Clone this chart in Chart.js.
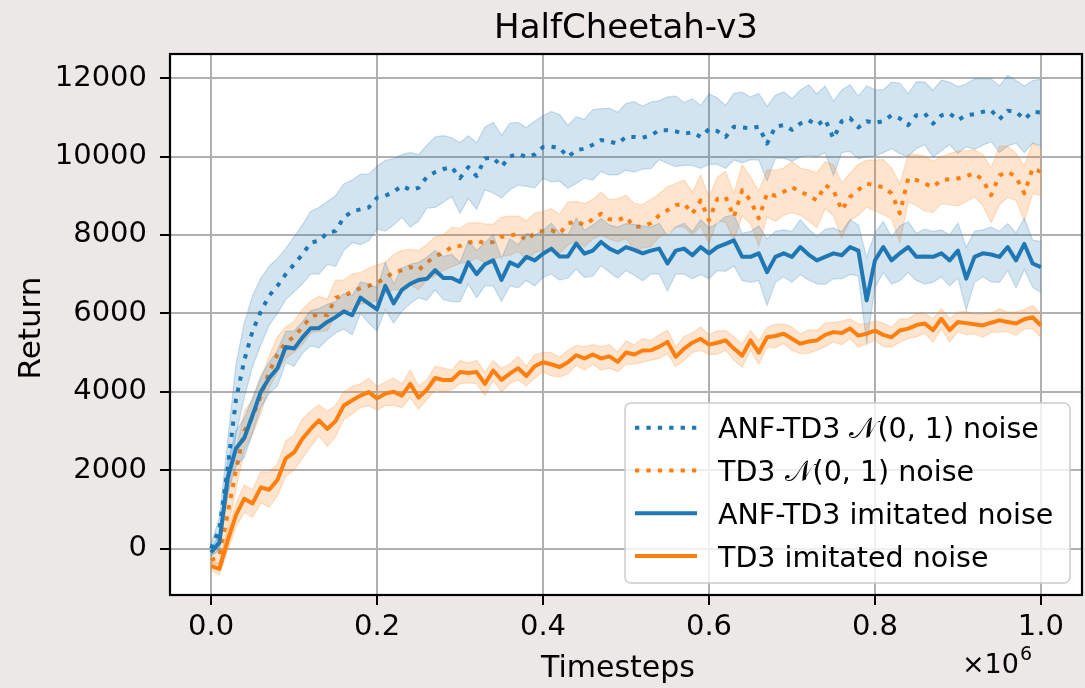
<!DOCTYPE html>
<html>
<head>
<meta charset="utf-8">
<script src="https://cdn.jsdelivr.net/npm/chart.js@4.4.1/dist/chart.umd.min.js"></script>
<style>
  body { margin: 0; background: #ede8e8; }
  canvas { display: block; }
</style>
</head>
<body>
<canvas id="myChart" width="1085" height="688"></canvas>
<script>
// evaluation every 10000 timesteps, 0 .. 1e6
var STEP = 10000;

var anfNormal = [
  0, 500, 2050, 3800, 4800, 5550, 6050, 6450, 6700, 7000,
  7250, 7500, 7800, 7850, 8050, 8100, 8450, 8600, 8650, 8700,
  8950, 9000, 9100, 9250, 9150, 9200, 9480, 9600, 9680, 9730,
  9450, 9730, 9500, 9950, 9970, 9740, 10000, 10070, 9990, 10050,
  10240, 10250, 10220, 9990, 10160, 10200, 10300, 10420, 10380, 10330,
  10500, 10500, 10480, 10540, 10670, 10670, 10640, 10580, 10620, 10500,
  10700, 10650, 10500, 10760, 10740, 10720, 10760, 10330, 10760, 10800,
  10680, 10840, 10930, 10800, 10950, 10460, 10900, 10980, 10740, 10900,
  10860, 10900, 11050, 10970, 10800, 11055, 11100, 10840, 11050, 11100,
  10930, 11050, 11080, 11140, 11180, 10950, 11170, 11140, 10950, 11140,
  11120
];
var anfNormalSpread = [
  100, 300, 700, 900, 950, 900, 850, 750, 700, 650,
  700, 750, 800, 850, 800, 900, 850, 800, 900, 850,
  800, 900, 850, 800, 950, 850, 800, 900, 850, 750,
  900, 800, 850, 800, 900, 800, 850, 800, 750, 850,
  800, 900, 850, 800, 850, 750, 900, 800, 850, 800,
  850, 900, 800, 850, 750, 850, 900, 800, 850, 800,
  900, 850, 800, 850, 900, 800, 850, 950, 800, 850,
  800, 850, 900, 800, 850, 950, 800, 850, 800, 900,
  850, 800, 850, 900, 800, 850, 800, 850, 900, 800,
  850, 800, 900, 850, 800, 850, 900, 800, 850, 800,
  850
];

var tdNormal = [
  -300, -200, 900, 2000, 3000, 3350, 3900, 4500, 4950, 5250,
  5400, 5650, 5900, 5990, 5950, 6400, 6450, 6550, 6640, 6700,
  6780, 6900, 7050, 7100, 7180, 7100, 7300, 7450, 7550, 7690,
  7720, 7800, 7860, 7780, 7820, 7950, 7980, 8030, 7860, 8050,
  8100, 8120, 8030, 8290, 8350, 8250, 8400, 8540, 8400, 8370,
  8460, 8200, 8220, 8300, 8500, 8630, 8760, 8800, 8540, 8880,
  8370, 8920, 8970, 8460, 9140, 8880, 8420, 9060, 9000, 9100,
  9220, 9100, 9010, 8880, 9270, 9140, 8630, 8970, 9150, 9310,
  9260, 9220, 9060, 8550, 9440, 9400, 9310, 9220, 9400, 9420,
  9440, 9500, 9570, 9400, 9010, 9520, 9610, 9480, 9060, 9700,
  9610
];
var tdNormalSpread = [
  100, 200, 400, 500, 500, 450, 450, 400, 450, 400,
  400, 450, 400, 450, 400, 450, 400, 450, 400, 450,
  450, 400, 450, 500, 450, 500, 450, 500, 450, 500,
  450, 500, 450, 500, 450, 500, 500, 450, 500, 500,
  500, 550, 500, 550, 500, 550, 500, 550, 500, 550,
  550, 600, 550, 600, 550, 600, 550, 600, 550, 650,
  600, 550, 650, 600, 650, 600, 700, 600, 650, 600,
  650, 600, 650, 700, 600, 650, 700, 600, 650, 600,
  650, 700, 650, 750, 600, 650, 700, 650, 600, 650,
  700, 650, 600, 650, 700, 750, 650, 600, 700, 650,
  600
];

var anfImit = [
  -100, 150, 1800, 2550, 2820, 3400, 4000, 4350, 4600, 5140,
  5100, 5380, 5620, 5620, 5780, 5900, 6050, 5950, 6400, 6250,
  6100, 6700, 6250, 6600, 6750, 6850, 6880, 7100, 6900, 6900,
  6800, 7300, 7000, 7250, 7350, 6850, 7300, 7200, 7440, 7350,
  7520, 7650, 7450, 7450, 7780, 7520, 7600, 7820, 7650, 7550,
  7690, 7620, 7530, 7600, 7650, 7270, 7600, 7650, 7480, 7690,
  7530, 7690, 7770, 7860, 7440, 7440, 7530, 7050, 7440, 7530,
  7440, 7690, 7500, 7350, 7440, 7530, 7480, 7690, 7600, 6330,
  7350, 7690, 7350, 7530, 7690, 7440, 7450, 7440, 7530, 7350,
  7600, 6885, 7440, 7530, 7500, 7440, 7690, 7350, 7770, 7270,
  7180
];
var anfImitSpread = [
  100, 200, 400, 450, 500, 450, 400, 400, 450, 400,
  450, 400, 450, 500, 450, 400, 450, 500, 400, 500,
  550, 600, 500, 550, 500, 450, 550, 500, 550, 600,
  500, 550, 600, 550, 650, 550, 600, 550, 600, 650,
  600, 650, 600, 550, 650, 600, 650, 600, 600, 650,
  600, 650, 700, 600, 650, 700, 600, 650, 600, 700,
  650, 600, 700, 650, 600, 650, 700, 850, 650, 600,
  650, 700, 650, 600, 700, 650, 600, 700, 650, 1100,
  700, 650, 600, 700, 650, 600, 700, 650, 600, 650,
  700, 800, 650, 600, 700, 650, 600, 700, 650, 600,
  650
];

var tdImit = [
  -450, -520, 200, 850, 1270, 1150, 1560, 1500, 1750, 2300,
  2450, 2800, 3050, 3270, 3050, 3250, 3650, 3780, 3900, 3990,
  3830, 3950, 4000, 3900, 4200, 3850, 4050, 4350, 4300, 4300,
  4500, 4480, 4500, 4200, 4540, 4300, 4460, 4600, 4400, 4650,
  4750, 4700, 4630, 4750, 4930, 4850, 4950, 4850, 4900, 4760,
  5000, 4950, 5050, 5055, 5150, 5270, 4890, 5100, 5250, 5350,
  5200, 5250, 5310, 5100, 4920, 5310, 5000, 5390, 5420, 5480,
  5350, 5225, 5280, 5310, 5450, 5520, 5500, 5610, 5430, 5480,
  5560, 5450, 5390, 5560, 5610, 5700, 5740, 5570, 5860, 5570,
  5780, 5750, 5720, 5690, 5760, 5820, 5780, 5740, 5850, 5900,
  5690
];
var tdImitSpread = [
  100, 150, 250, 300, 350, 350, 400, 450, 400, 450,
  450, 500, 450, 400, 450, 400, 350, 350, 300, 350,
  300, 300, 350, 300, 350, 300, 250, 300, 300, 250,
  300, 250, 300, 300, 250, 300, 250, 300, 250, 300,
  250, 300, 250, 300, 250, 300, 250, 300, 300, 250,
  300, 250, 300, 250, 300, 300, 250, 300, 250, 300,
  250, 300, 250, 300, 300, 250, 300, 250, 300, 250,
  300, 250, 300, 250, 300, 250, 300, 250, 300, 250,
  250, 300, 250, 300, 250, 300, 250, 300, 250, 300,
  250, 300, 250, 300, 250, 300, 250, 300, 250, 300,
  300
];

var xTicks = [0, 200000, 400000, 600000, 800000, 1000000];
var yTicks = [0, 2000, 4000, 6000, 8000, 10000, 12000];

var FONT = "'DejaVu Sans', 'Noto Sans', sans-serif";
var BLUE = [31, 119, 180];
var ORANGE = [255, 127, 14];
var DOTS = [4.3, 7.1];

function rgba(c, a) { return 'rgba(' + c[0] + ',' + c[1] + ',' + c[2] + ',' + a + ')'; }

var series = [
  { parts: ['ANF-TD3 ', '𝒩', '(0, 1) noise'], mean: anfNormal, spread: anfNormalSpread, color: BLUE, dash: DOTS },
  { parts: ['TD3 ', '𝒩', '(0, 1) noise'], mean: tdNormal, spread: tdNormalSpread, color: ORANGE, dash: DOTS },
  { parts: ['ANF-TD3 imitated noise'], mean: anfImit, spread: anfImitSpread, color: BLUE, dash: [] },
  { parts: ['TD3 imitated noise'], mean: tdImit, spread: tdImitSpread, color: ORANGE, dash: [] }
];

var timesteps = [];
for (var i = 0; i < anfNormal.length; i++) timesteps.push(i * STEP);

function pts(arr, sp, sign) {
  return arr.map(function(v, i) { return { x: timesteps[i], y: v + sign * (sp ? sp[i] : 0) }; });
}

var datasets = [];
series.forEach(function(s, k) {
  var z = (3 - k) * 10;
  datasets.push({
    data: pts(s.mean, s.spread, 1), fill: '+1',
    backgroundColor: rgba(s.color, 0.2), borderColor: rgba(s.color, 0.22),
    borderWidth: 1.2, pointRadius: 0, tension: 0, order: z + 2
  });
  datasets.push({
    data: pts(s.mean, s.spread, -1), fill: false,
    borderColor: rgba(s.color, 0.22), borderWidth: 1.2, pointRadius: 0, tension: 0, order: z + 1
  });
  datasets.push({
    data: pts(s.mean, null, 0), fill: false,
    borderColor: rgba(s.color, 1), borderWidth: 4, borderDash: s.dash,
    borderJoinStyle: 'round', pointRadius: 0, tension: 0, order: z
  });
});

var decor = {
  id: 'decor',
  beforeDraw: function(chart) {
    var ctx = chart.ctx, a = chart.chartArea;
    ctx.save();
    ctx.fillStyle = '#ede8e8';
    ctx.fillRect(0, 0, chart.width, chart.height);
    ctx.fillStyle = '#ffffff';
    ctx.fillRect(a.left, a.top, a.right - a.left, a.bottom - a.top);
    ctx.restore();
  },
  afterDatasetsDraw: function(chart) {
    var ctx = chart.ctx, a = chart.chartArea;
    ctx.save();
    ctx.strokeStyle = '#000';
    ctx.lineWidth = 2.2;
    ctx.strokeRect(a.left, a.top, a.right - a.left, a.bottom - a.top);
    ctx.restore();
  },
  afterDraw: function(chart) {
    var ctx = chart.ctx, a = chart.chartArea;
    ctx.save();
    ctx.fillStyle = '#000';
    ctx.textBaseline = 'alphabetic';

    // title
    ctx.font = '34px ' + FONT;
    ctx.textAlign = 'center';
    ctx.fillText('HalfCheetah-v3', (a.left + a.right) / 2, 38);

    // axis titles
    ctx.font = '30px ' + FONT;
    ctx.fillText('Timesteps', 618, 677);
    ctx.save();
    ctx.translate(40, 328);
    ctx.rotate(-Math.PI / 2);
    ctx.font = '31px ' + FONT;
    ctx.fillText('Return', 0, 0);
    ctx.restore();

    // offset text
    ctx.textAlign = 'left';
    ctx.font = '19px ' + FONT;
    var w6 = ctx.measureText('6').width;
    ctx.font = '27px ' + FONT;
    var wx = ctx.measureText('×10').width;
    var x0 = 1031 - w6 - wx;
    ctx.fillText('×10', x0, 673);
    ctx.font = '19px ' + FONT;
    ctx.fillText('6', x0 + wx + 1, 660);

    // legend
    var bx = 625, by = 403, bw = 445, bh = 180;
    ctx.beginPath();
    ctx.roundRect(bx, by, bw, bh, 6);
    ctx.fillStyle = 'rgba(255,255,255,0.8)';
    ctx.fill();
    ctx.strokeStyle = '#cccccc';
    ctx.lineWidth = 1.5;
    ctx.stroke();

    series.forEach(function(s, k) {
      var ly = 427.7 + k * 42.8;
      ctx.beginPath();
      ctx.setLineDash(s.dash);
      ctx.lineCap = 'butt';
      ctx.strokeStyle = rgba(s.color, 1);
      ctx.lineWidth = 4;
      ctx.moveTo(635, ly);
      ctx.lineTo(697, ly);
      ctx.stroke();
      ctx.setLineDash([]);

      var tx = 718;
      ctx.fillStyle = '#000';
      s.parts.forEach(function(p) {
        ctx.font = (p === '𝒩' ? '29px ' : '28.5px ') + FONT;
        ctx.fillText(p, tx, ly + 10.5);
        tx += ctx.measureText(p).width;
      });
    });
    ctx.restore();
  }
};

var ctx = document.getElementById('myChart');

var chart = new Chart(ctx, {
  type: 'line',
  data: { datasets: datasets },
  plugins: [decor],
  options: {
    responsive: false,
    animation: false,
    events: [],
    layout: { padding: { left: 0, right: 3, top: 54, bottom: 0 } },
    plugins: {
      legend: { display: false },
      tooltip: { enabled: false },
      title: { display: false }
    },
    scales: {
      x: {
        type: 'linear',
        min: -49500,
        max: 1049500,
        afterBuildTicks: function(s) { s.ticks = xTicks.map(function(v) { return { value: v }; }); },
        afterFit: function(s) { s.height = 93; },
        border: { display: false },
        grid: { color: '#b0b0b0', lineWidth: 2, tickLength: 10, tickColor: '#000', tickWidth: 2 },
        ticks: {
          color: '#000', padding: 5, maxRotation: 0, autoSkip: false,
          font: { size: 29, family: FONT },
          callback: function(v) { return (v / 1e6).toFixed(1); }
        }
      },
      y: {
        type: 'linear',
        min: -1186,
        max: 12615,
        afterBuildTicks: function(s) { s.ticks = yTicks.map(function(v) { return { value: v }; }); },
        afterFit: function(s) { s.width = 170; },
        border: { display: false },
        grid: { color: '#b0b0b0', lineWidth: 2, tickLength: 10, tickColor: '#000', tickWidth: 2 },
        ticks: {
          color: '#000', padding: 13, autoSkip: false,
          font: { size: 29, family: FONT },
          callback: function(v) { return String(v); }
        }
      }
    }
  }
});
</script>
</body>
</html>
